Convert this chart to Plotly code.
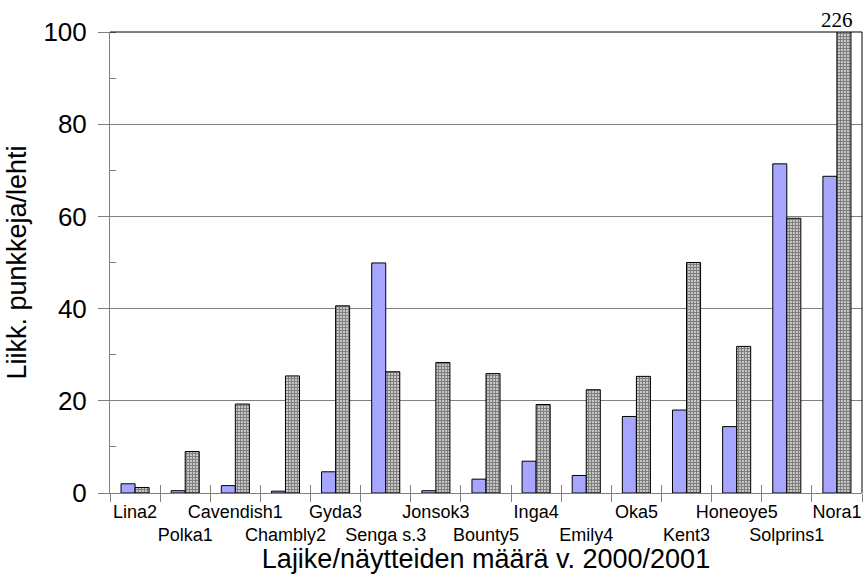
import plotly.graph_objects as go

categories = ["Lina2", "Polka1", "Cavendish1", "Chambly2", "Gyda3", "Senga s.3", "Jonsok3",
              "Bounty5", "Inga4", "Emily4", "Oka5", "Kent3", "Honeoye5", "Solprins1", "Nora1"]
series_2000 = [2.0, 0.5, 1.6, 0.4, 4.6, 49.9, 0.5, 3.0, 6.9, 3.8, 16.6, 18.0, 14.4, 71.4, 68.7]
series_2001 = [1.2, 9.0, 19.3, 25.4, 40.6, 26.3, 28.3, 25.9, 19.2, 22.4, 25.3, 50.0, 31.8, 59.6, 226]
y_ticks = [0, 20, 40, 60, 80, 100]
clipped_label = "226"

xpos = list(range(len(categories)))
ticktext = [c if i % 2 == 0 else "<br>" + c for i, c in enumerate(categories)]
bounds = [i - 0.5 for i in range(len(categories) + 1)]

fig = go.Figure()
fig.add_trace(go.Bar(x=xpos, y=series_2000, name="2000",
                     marker=dict(color="#a6a6ff", line=dict(color="black", width=1))))
fig.add_trace(go.Bar(x=xpos, y=series_2001, name="2001",
                     marker=dict(color="white", line=dict(color="black", width=1),
                                 pattern=dict(shape="+", size=3, solidity=0.75,
                                              fgcolor="black", bgcolor="white",
                                              fillmode="overlay"))))
fig.add_trace(go.Scatter(x=[], y=[], xaxis="x2", showlegend=False))

font = "Liberation Sans, Arial, sans-serif"
fig.update_layout(
    width=864, height=574,
    margin=dict(l=110, r=2, t=32, b=81),
    paper_bgcolor="white", plot_bgcolor="white",
    barmode="group", bargap=0.44, bargroupgap=0,
    showlegend=False,
    font=dict(family=font, color="black"),
    xaxis=dict(range=[-0.5, len(categories) - 0.5], tickvals=xpos, ticktext=ticktext,
               tickangle=0, automargin=False,
               ticks="", showgrid=False, zeroline=False,
               showline=True, linecolor="#808080", linewidth=1,
               tickfont=dict(size=18, family=font), ticklabelstandoff=2,
               minor=dict(tickvals=bounds, ticks="outside", ticklen=8,
                          tickcolor="#808080", showgrid=False),
               title=dict(text="Lajike/näytteiden määrä v. 2000/2001",
                          font=dict(size=27, family=font), standoff=3)),
    xaxis2=dict(overlaying="x", anchor="y", side="bottom", automargin=False,
                range=[-0.5, len(categories) - 0.5], tickmode="array", tickvals=bounds,
                ticks="inside", ticklen=8, tickcolor="#808080",
                showticklabels=False, showgrid=False, zeroline=False, showline=False),
    yaxis=dict(range=[0, 100], tickvals=y_ticks, ticks="outside", ticklen=11,
               tickcolor="#808080", showgrid=True, gridcolor="#808080", gridwidth=1,
               zeroline=False, showline=True, linecolor="#808080", linewidth=1,
               automargin=False,
               tickfont=dict(size=26, family=font), ticklabelstandoff=6,
               minor=dict(dtick=10, ticks="inside", ticklen=6, tickcolor="#808080",
                          showgrid=False),
               title=dict(text="Liikk. punkkeja/lehti", font=dict(size=27, family=font),
                          standoff=8)),
    shapes=[
        dict(type="line", xref="paper", yref="paper", x0=0, x1=1, y0=1, y1=1,
             line=dict(color="black", width=1)),
        dict(type="line", xref="paper", yref="paper", x0=1, x1=1, y0=0, y1=1,
             line=dict(color="black", width=1)),
    ],
    annotations=[dict(x=xpos[-1] + 0.36, y=1, xref="x", yref="paper", text=clipped_label,
                      showarrow=False, xanchor="right", yanchor="bottom", yshift=-2,
                      font=dict(size=21, family="Liberation Serif, Times New Roman, serif"))],
)

fig.write_html("out.html", config={"displayModeBar": False},
               post_script="document.body.style.margin='0';document.body.style.padding='0';")
